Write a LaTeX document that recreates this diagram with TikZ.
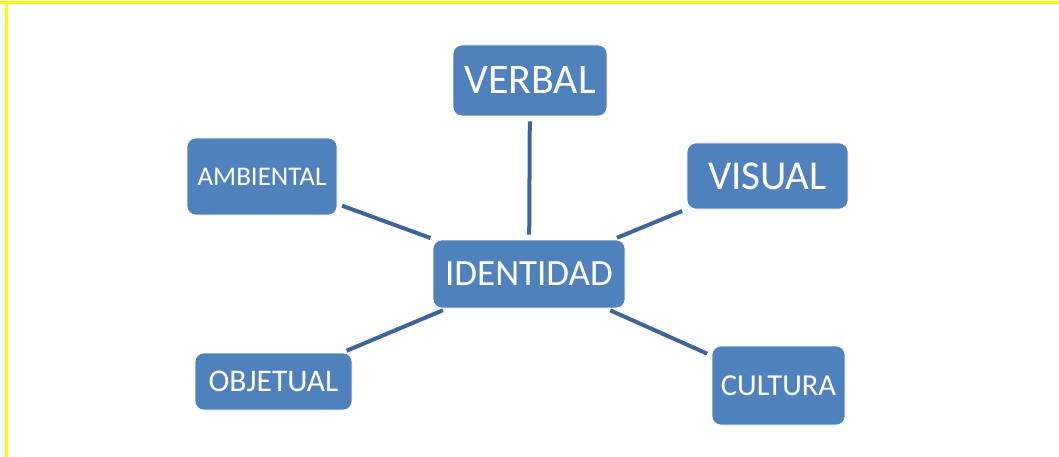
\documentclass[tikz,border=0pt]{standalone}
\usepackage{fontspec}
\setmainfont{Carlito}
\definecolor{boxblue}{HTML}{4F81BD}
\definecolor{linkblue}{HTML}{3F6496}
\definecolor{frameyellow}{HTML}{FFFF00}
\begin{document}
\begin{tikzpicture}[x=1pt,y=-1pt,
  concept/.style={rectangle, rounded corners=9pt, fill=boxblue, draw=white, line width=0.6pt,
    text=white, inner sep=0pt, anchor=center},
  link/.style={draw=linkblue, line width=4pt, shorten >=5pt, shorten <=5pt}]
  \useasboundingbox (0,0) rectangle (1059,457);
  % page frame
  \draw[frameyellow, line width=2.6pt] (0,2.6) -- (1059,2.6);
  \draw[frameyellow, line width=2.4pt] (6.5,2) -- (6.5,457);
  % concept boxes
  \node[concept, minimum width=154pt, minimum height=71pt, font=\fontsize{42}{42}\selectfont] (verbal) at (530,80.5) {VERBAL};
  \node[concept, minimum width=161pt, minimum height=66pt, font=\fontsize{41}{41}\selectfont] (visual) at (767.5,176) {VISUAL};
  \node[concept, minimum width=150pt, minimum height=77pt, font=\fontsize{27}{27}\selectfont] (ambiental) at (262,176.5) {AMBIENTAL};
  \node[concept, minimum width=192pt, minimum height=68pt, font=\fontsize{37}{37}\selectfont] (identidad) at (529,274) {IDENTIDAD};
  \node[concept, minimum width=157pt, minimum height=57pt, font=\fontsize{31.5}{31.5}\selectfont] (objetual) at (273.5,381.5) {OBJETUAL};
  \node[concept, minimum width=133pt, minimum height=79pt, font=\fontsize{30.5}{30.5}\selectfont] (cultura) at (778.5,385.5) {CULTURA};
  % connectors
  \draw[link] (verbal) -- (identidad);
  \draw[link] (visual) -- (identidad);
  \draw[link] (ambiental) -- (identidad);
  \draw[link] (objetual) -- (identidad);
  \draw[link] (cultura) -- (identidad);
\end{tikzpicture}
\end{document}
